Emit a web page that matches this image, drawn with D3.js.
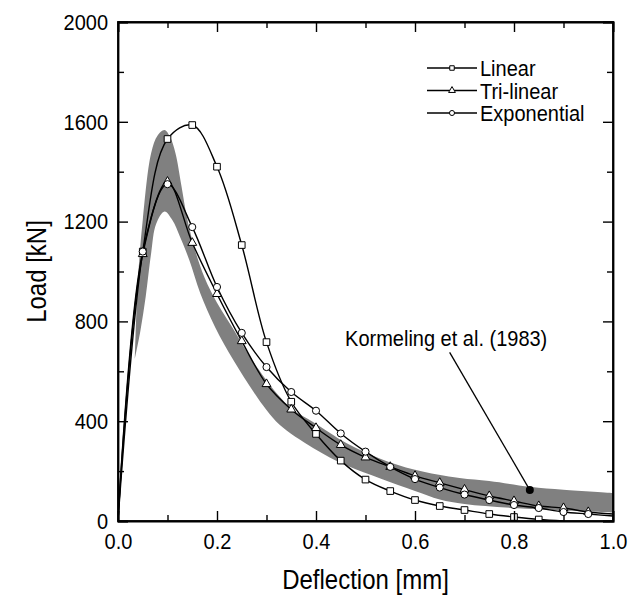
<!DOCTYPE html>
<html>
<head>
	<meta http-equiv="Content-Type" content="text/html;charset=utf-8">
	<title>Load - Deflection</title>
	<script type="text/javascript" src="https://d3js.org/d3.v7.min.js"></script>
	<style type="text/css">
		body {
			margin: 0;
			background-color: white;
		}
		svg text {
			font-family: "Liberation Sans", Arial, sans-serif;
			fill: black;
			transform-box: fill-box;
			transform-origin: center;
			transform: scaleY(1.12);
		}
		.tick text {
			font-size: 20px;
		}
		.title {
			font-size: 24px;
		}
		.legend text, .note {
			font-size: 20px;
		}
		.curve {
			fill: none;
			stroke: black;
			stroke-width: 1.4;
		}
		.marker {
			fill: white;
			stroke: black;
			stroke-width: 1;
		}
	</style>
</head>
<body>
	<div id="chart"></div>

	<script type="text/javascript">
		// deflection steps [mm]
		var xLinear = [0, 0.05, 0.1, 0.15, 0.2, 0.25, 0.3, 0.35, 0.4, 0.45, 0.5, 0.55, 0.6, 0.65, 0.7, 0.75, 0.8, 0.85, 0.9];
		var loadLinear = [0, 1080, 1531, 1587, 1420, 1106, 717, 478, 349, 242, 166, 120, 84, 60, 44, 28, 16, 6, 0];

		var xSteps = [0, 0.05, 0.1, 0.15, 0.2, 0.25, 0.3, 0.35, 0.4, 0.45, 0.5, 0.55, 0.6, 0.65, 0.7, 0.75, 0.8, 0.85, 0.9, 0.95, 1.0];
		var loadTriLinear = [0, 1070, 1360, 1115, 910, 721, 549, 447, 373, 305, 255, 217, 181, 153, 126, 100, 80, 60, 52, 36, 28];
		var loadExponential = [0, 1080, 1350, 1178, 938, 754, 617, 517, 442, 351, 278, 217, 168, 134, 106, 84, 64, 52, 36, 28, 20];

		// Kormeling et al. (1983) test envelope
		var bandUpperX = [0.034, 0.04, 0.05, 0.067, 0.08, 0.094, 0.105, 0.116, 0.128, 0.14, 0.155, 0.175, 0.2, 0.236, 0.27, 0.32, 0.354, 0.394, 0.462, 0.53, 0.6, 0.69, 0.75, 0.832, 0.9, 1.0];
		var bandUpperY = [650, 960, 1206, 1475, 1545, 1567, 1540, 1475, 1345, 1210, 1090, 975, 875, 760, 648, 513, 445, 397, 312, 250, 205, 172, 160, 137, 125, 112];
		var bandLowerX = [0.034, 0.045, 0.056, 0.067, 0.077, 0.094, 0.11, 0.125, 0.144, 0.166, 0.196, 0.233, 0.273, 0.3, 0.327, 0.394, 0.462, 0.53, 0.6, 0.65, 0.7, 0.8, 1.0];
		var bandLowerY = [650, 760, 900, 1074, 1190, 1240, 1205, 1140, 1046, 914, 778, 645, 520, 445, 385, 293, 222, 170, 120, 86, 68, 52, 34];

		var xTicks = [0, 0.2, 0.4, 0.6, 0.8, 1.0];
		var xMinorTicks = [0.1, 0.3, 0.5, 0.7, 0.9];
		var yTicks = [0, 400, 800, 1200, 1600, 2000];
		var yMinorTicks = [200, 600, 1000, 1400, 1800];

		var legendNames = ["Linear", "Tri-linear", "Exponential"];
		var noteText = "Kormeling et al. (1983)";
		var notePoint = [0.832, 124];
		var noteLabel = [0.663, 705];
		var noteLineStart = [0.67, 676];

		function zip(xs, ys) {
			return xs.map(function(x, i) { return [x, ys[i]]; });
		}

		var series = [
			{ name: legendNames[0], points: zip(xLinear, loadLinear), symbol: d3.symbolSquare },
			{ name: legendNames[1], points: zip(xSteps, loadTriLinear), symbol: d3.symbolTriangle },
			{ name: legendNames[2], points: zip(xSteps, loadExponential), symbol: d3.symbolCircle }
		];

		var W = 628, H = 601;
		var m = [22, 15, 80, 118]; //top right bottom left
		var w = W - m[1] - m[3],
			h = H - m[0] - m[2];

		var svg = d3.select("#chart").append("svg")
			.attr("width", W)
			.attr("height", H);

		var x = d3.scaleLinear().domain([0, 1]).range([0, w]);
		var y = d3.scaleLinear().domain([0, 2000]).range([h, 0]);

		var g = svg.append("g").attr("transform", "translate(" + m[3] + "," + m[0] + ")");

		g.append("clipPath").attr("id", "clip")
			.append("rect").attr("width", w).attr("height", h);

		var plot = g.append("g").attr("clip-path", "url(#clip)");

		// gray test band
		var edge = d3.line()
			.x(function(d) { return x(d[0]); })
			.y(function(d) { return y(d[1]); })
			.curve(d3.curveCatmullRom);
		var upperPath = edge(zip(bandUpperX, bandUpperY));
		var lowerPath = edge(zip(bandLowerX, bandLowerY).reverse());
		plot.append("path")
			.attr("d", upperPath + "L" + lowerPath.substring(1) + "Z")
			.attr("fill", "#808080")
			.attr("stroke", "none");

		// model curves
		series.forEach(function(s) {
			plot.append("path")
				.attr("class", "curve")
				.attr("d", edge(s.points));
		});
		series.forEach(function(s) {
			var sym = d3.symbol().type(s.symbol).size(s.symbol === d3.symbolTriangle ? 34 : (s.symbol === d3.symbolCircle ? 40 : 44));
			plot.selectAll(null)
				.data(s.points.filter(function(d) { return d[0] > 0 && d[0] < 1 && d[1] > 0; }))
				.enter().append("path")
				.attr("class", "marker")
				.attr("d", sym)
				.attr("transform", function(d) { return "translate(" + x(d[0]) + "," + y(d[1]) + ")"; });
		});

		// axes, ticks inward on all four sides
		function tickAxis(axis, major, minor, len, minorLen) {
			return function(sel) {
				sel.call(axis.tickValues(major).tickSize(len));
				var minorG = sel.append("g");
				minorG.call(axis.tickValues(minor).tickSize(minorLen).tickFormat(""));
				minorG.select(".domain").remove();
			};
		}

		g.append("g").attr("transform", "translate(0," + h + ")")
			.call(tickAxis(d3.axisBottom(x).tickFormat(d3.format(".1f")).tickPadding(13), xTicks, xMinorTicks, -10, -6));
		g.append("g")
			.call(tickAxis(d3.axisTop(x).tickFormat(""), xTicks, xMinorTicks, -10, -6));
		g.append("g")
			.call(tickAxis(d3.axisLeft(y).tickFormat(d3.format("d")).tickPadding(10), yTicks, yMinorTicks, -10, -6));
		g.append("g").attr("transform", "translate(" + w + ",0)")
			.call(tickAxis(d3.axisRight(y).tickFormat(""), yTicks, yMinorTicks, -10, -6));

		g.selectAll(".domain").attr("stroke-width", 1.8);
		g.selectAll(".tick line").attr("stroke-width", 1.4);
		g.selectAll(".tick text").attr("fill", "black");

		// frame
		g.append("rect")
			.attr("width", w).attr("height", h)
			.attr("fill", "none").attr("stroke", "black").attr("stroke-width", 1.8);

		// axis titles
		svg.append("text")
			.attr("class", "title")
			.attr("x", m[3] + w / 2)
			.attr("y", 588)
			.attr("text-anchor", "middle")
			.text("Deflection [mm]");
		svg.append("g")
			.attr("transform", "translate(45," + (m[0] + h / 2) + ") rotate(-90)")
			.append("text")
			.attr("class", "title")
			.attr("text-anchor", "middle")
			.text("Load [kN]");

		// annotation
		g.append("line")
			.attr("x1", x(noteLineStart[0])).attr("y1", y(noteLineStart[1]))
			.attr("x2", x(notePoint[0])).attr("y2", y(notePoint[1]))
			.attr("stroke", "black").attr("stroke-width", 1.3);
		g.append("circle")
			.attr("cx", x(notePoint[0])).attr("cy", y(notePoint[1]))
			.attr("r", 4).attr("fill", "black");
		g.append("text")
			.attr("class", "note")
			.attr("x", x(noteLabel[0])).attr("y", y(noteLabel[1]))
			.attr("text-anchor", "middle")
			.text(noteText);

		// legend
		var legend = g.append("g").attr("class", "legend")
			.attr("transform", "translate(" + (427 - m[3]) + "," + (68 - m[0]) + ")");
		series.forEach(function(s, i) {
			var row = legend.append("g").attr("transform", "translate(0," + (i * 22.5) + ")");
			row.append("line").attr("x1", 0).attr("x2", 50)
				.attr("stroke", "black").attr("stroke-width", 1.3);
			row.append("path")
				.attr("class", "marker")
				.attr("d", d3.symbol().type(s.symbol).size(20))
				.attr("transform", "translate(25,0)");
			row.append("text")
				.attr("x", 53)
				.attr("dy", "0.36em")
				.text(s.name);
		});
	</script>
</body>
</html>
